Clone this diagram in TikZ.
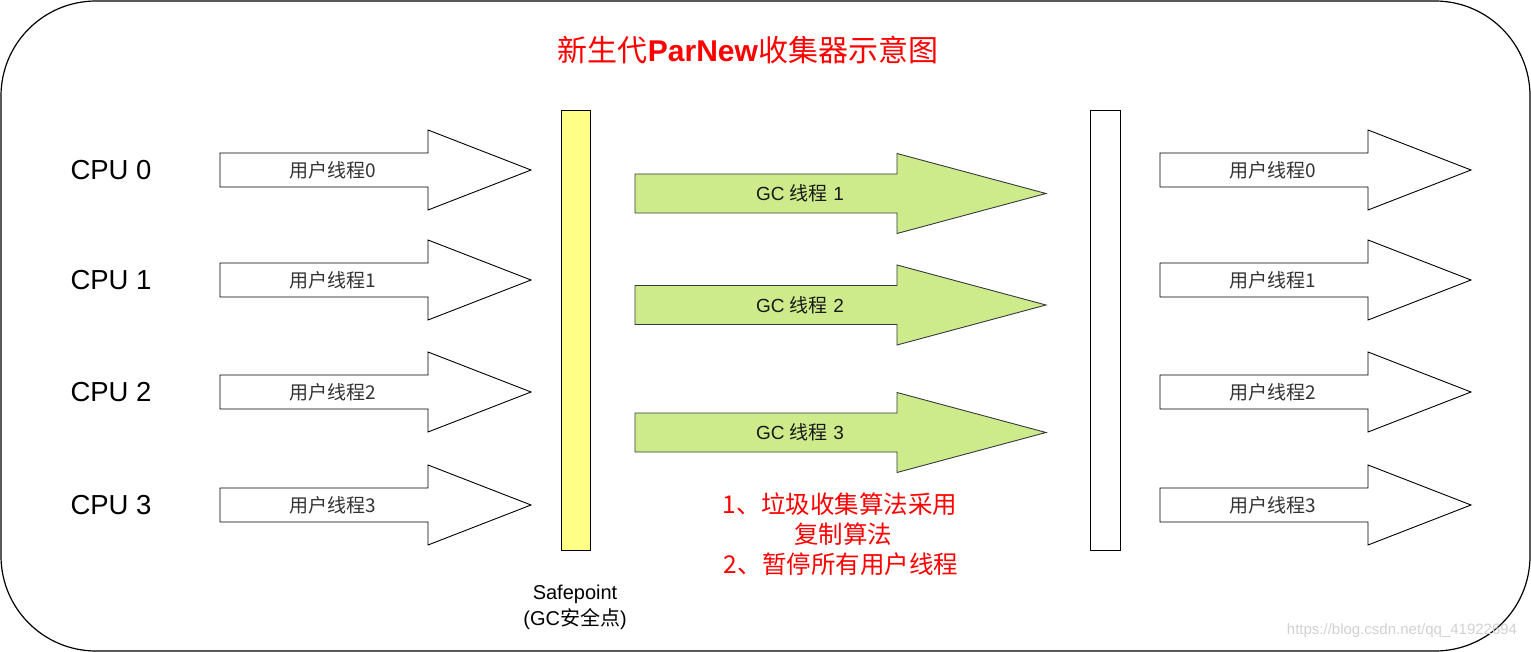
\documentclass[tikz,border=0pt]{standalone}
\usepackage{fontspec}
\setmainfont{Liberation Sans}
\newfontfamily\cjk{Noto Sans CJK SC}
\definecolor{gcgreen}{HTML}{CDEB8B}
\definecolor{sfyellow}{HTML}{FFFF88}
\definecolor{edgegray}{HTML}{36393D}
\newcommand\fs[1]{\fontsize{#1}{#1}\selectfont}
\tikzset{
  arrowline/.style={draw=black, line width=0.9pt, fill=white, line join=miter},
  gcline/.style={draw=edgegray, line width=0.9pt, fill=gcgreen, line join=miter},
  uarrow/.pic={\path[arrowline] (0,-17) -- (208,-17) -- (208,-40) -- (311,0) -- (208,40) -- (208,17) -- (0,17) -- cycle;},
  gcarrow/.pic={\path[gcline] (0,-19.5) -- (262,-19.5) -- (262,-40) -- (411,0) -- (262,40) -- (262,19.5) -- (0,19.5) -- cycle;},
  ulabel/.style={text=black!80, font=\fs{19}\cjk, inner sep=0pt},
  gclabel/.style={text=black!90, font=\fs{19}, inner sep=0pt},
  cpulabel/.style={text=black, font=\fs{27.5}, inner sep=0pt},
  redtext/.style={text=red, font=\fs{24.5}\cjk, inner sep=0pt},
  sptext/.style={font=\fs{20}, inner sep=0pt},
  bar/.style={draw=black, line width=0.9pt}
}
\begin{document}
\begin{tikzpicture}[x=1pt,y=-1pt]
\useasboundingbox (0,0) rectangle (1531,652);
\draw[line width=1.2pt, rounded corners=95pt] (1,1) rectangle (1530,651);
% title
\node[text=red, font=\fs{30}, inner sep=0pt] (title) at (748,50) {{\cjk 新生代}\textbf{ParNew}{\cjk 收集器示意图}};
% CPU labels and user thread arrows
\foreach \i/\y in {0/170,1/280,2/392,3/505}{
  \node[cpulabel] (cpu\i) at (111,\y) {CPU \i};
  \pic at (220,\y) {uarrow};
  \node[ulabel] (ul\i) at (333,\y) {用户线程\i};
  \pic at (1160,\y) {uarrow};
  \node[ulabel] (ur\i) at (1273,\y) {用户线程\i};
}
% bars
\node[bar, fill=sfyellow, minimum width=29pt, minimum height=440pt, inner sep=0pt] (safe) at (575.5,330) {};
\node[bar, fill=white, minimum width=30pt, minimum height=440pt, inner sep=0pt] (resume) at (1105,330) {};
% GC arrows
\foreach \i/\y in {1/193.5,2/305,3/432.5}{
  \pic at (635,\y) {gcarrow};
  \node[gclabel] (gc\i) at (800,\y) {GC {\cjk 线程} \i};
}
% red text
\node[redtext] (r1) at (840,504) {1、垃圾收集算法采用};
\node[redtext] (r2) at (843,534) {复制算法};
\node[redtext] (r3) at (841,564) {2、暂停所有用户线程};
% safepoint label
\node[sptext] (sp1) at (575,594) {Safepoint};
\node[sptext] (sp2) at (575,619) {(GC{\cjk 安全点})};
% watermark
\node[text=black!18, font=\fs{15}, inner sep=0pt] (wm) at (1402,631) {https://blog.csdn.net/qq\_41922694};
\end{tikzpicture}
\end{document}
